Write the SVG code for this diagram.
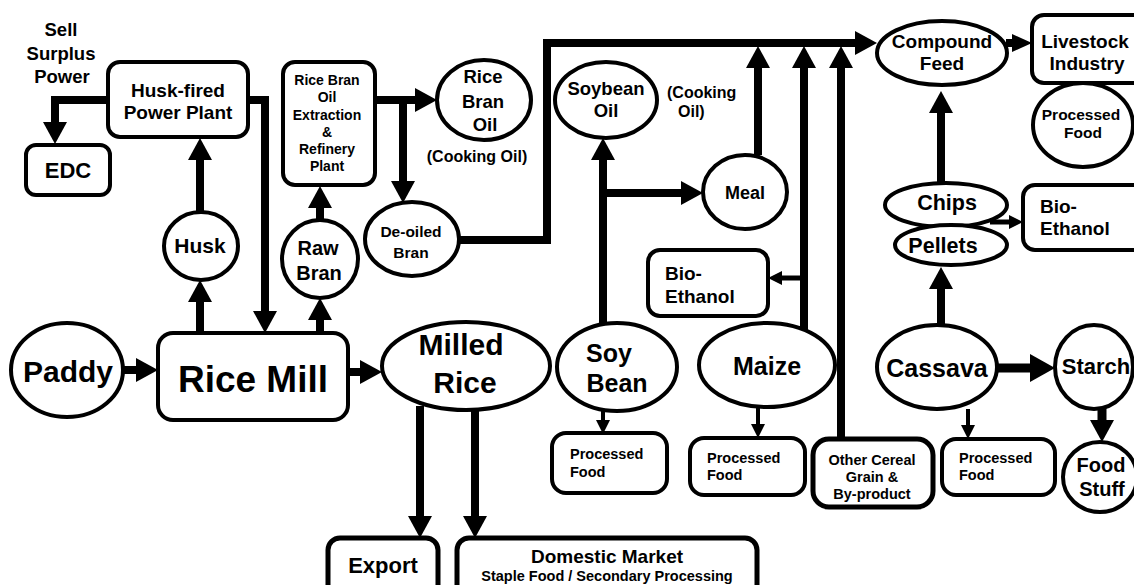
<svg xmlns="http://www.w3.org/2000/svg" width="1134" height="585" viewBox="0 0 1134 585">
  <style>
    .node { fill: #fff; stroke: #000; stroke-width: 4; }
    .t { font-family: "Liberation Sans", Arial, sans-serif; font-weight: bold; fill: #000; text-anchor: middle; }
    .s { text-anchor: start; }
    .c { fill: none; stroke: #000; stroke-linejoin: miter; stroke-linecap: butt; }
    .w8 { stroke-width: 8; }
    .w9 { stroke-width: 9; }
    .w5 { stroke-width: 5; }
    .w4 { stroke-width: 4; }
  </style>
  <defs>
    <marker id="big" markerUnits="userSpaceOnUse" markerWidth="22" markerHeight="24" viewBox="0 0 22 24" refX="0" refY="12" orient="auto">
      <path d="M0,0 L22,12 L0,24 Z" fill="#000"/>
    </marker>
    <marker id="wide" markerUnits="userSpaceOnUse" markerWidth="25" markerHeight="28" viewBox="0 0 25 28" refX="0" refY="14" orient="auto">
      <path d="M0,0 L25,14 L0,28 Z" fill="#000"/>
    </marker>
    <marker id="mid" markerUnits="userSpaceOnUse" markerWidth="20" markerHeight="18" viewBox="0 0 20 18" refX="0" refY="9" orient="auto">
      <path d="M0,0 L20,9 L0,18 Z" fill="#000"/>
    </marker>
    <marker id="small" markerUnits="userSpaceOnUse" markerWidth="14" markerHeight="14" viewBox="0 0 14 14" refX="0" refY="7" orient="auto">
      <path d="M0,0 L14,7 L0,14 Z" fill="#000"/>
    </marker>
  </defs>

  <rect width="1134" height="585" fill="#fff"/>

  <!-- connectors -->
  <g id="connectors">
    <path class="c w8" d="M123,370 H136" marker-end="url(#big)"/>
    <path class="c w8" d="M348,372 H360" marker-end="url(#big)"/>
    <path class="c w8" d="M200,333 V302" marker-end="url(#big)"/>
    <path class="c w8" d="M200,212 V160" marker-end="url(#big)"/>
    <path class="c w8" d="M248,100 H265 V311" marker-end="url(#big)"/>
    <path class="c w8" d="M108,100 H55 V122" marker-end="url(#big)"/>
    <path class="c w8" d="M320,333 V320" marker-end="url(#big)"/>
    <path class="c w8" d="M320,220 V208" marker-end="url(#big)"/>
    <path class="c w8" d="M375,100 H415" marker-end="url(#big)"/>
    <path class="c w8" d="M403,100 V181" marker-end="url(#big)"/>
    <path class="c w8" d="M458,240 H547 V43 H855" marker-end="url(#big)"/>
    <path class="c w8" d="M420,406 V516" marker-end="url(#big)"/>
    <path class="c w8" d="M475,409 V516" marker-end="url(#big)"/>
    <path class="c w8" d="M603,323 V160" marker-end="url(#big)"/>
    <path class="c w8" d="M603,193 H681" marker-end="url(#big)"/>
    <path class="c w8" d="M758,155 V68" marker-end="url(#big)"/>
    <path class="c w8" d="M804,334 V68" marker-end="url(#big)"/>
    <path class="c w8" d="M841,438 V68" marker-end="url(#big)"/>
    <path class="c w5" d="M804,278 H782" marker-end="url(#small)"/>
    <path class="c w4" d="M603,411 V420" marker-end="url(#small)"/>
    <path class="c w4" d="M758,407 V424" marker-end="url(#small)"/>
    <path class="c w4" d="M968,409 V425" marker-end="url(#small)"/>
    <path class="c w8" d="M1006,43 H1012" marker-end="url(#mid)"/>
    <path class="c w8" d="M941,183 V113" marker-end="url(#big)"/>
    <path class="c w8" d="M941,325 V289" marker-end="url(#big)"/>
    <path class="c w5" d="M990,222 H1009" marker-end="url(#small)"/>
    <path class="c w9" d="M997,368 H1030" marker-end="url(#wide)"/>
    <path class="c w9" d="M1102,408 V420" marker-end="url(#big)"/>
  </g>

  <!-- rice branch -->
  <g id="paddy">
    <ellipse class="node" cx="67" cy="370" rx="56" ry="47"/>
    <text class="t" x="68" y="382" font-size="30">Paddy</text>
  </g>
  <g id="rice-mill">
    <rect class="node" x="158" y="333" width="190" height="87" rx="15"/>
    <text class="t" x="253" y="392" font-size="37">Rice Mill</text>
  </g>
  <g id="husk">
    <ellipse class="node" cx="201" cy="246" rx="37" ry="34"/>
    <text class="t" x="200" y="253" font-size="21">Husk</text>
  </g>
  <g id="power-plant">
    <rect class="node" x="108" y="62" width="140" height="75" rx="12"/>
    <text class="t" x="178" y="97" font-size="19">Husk-fired</text>
    <text class="t" x="178" y="119" font-size="19">Power Plant</text>
  </g>
  <g id="sell-surplus">
    <text class="t" x="61" y="36" font-size="18.5">Sell</text>
    <text class="t" x="61" y="60" font-size="18.5">Surplus</text>
    <text class="t" x="62" y="83" font-size="18.5">Power</text>
  </g>
  <g id="edc">
    <rect class="node" x="26" y="145" width="84" height="50" rx="10"/>
    <text class="t" x="68" y="178" font-size="22">EDC</text>
  </g>
  <g id="raw-bran">
    <ellipse class="node" cx="320" cy="259" rx="38" ry="39"/>
    <text class="t" x="318" y="255" font-size="20">Raw</text>
    <text class="t" x="319" y="280" font-size="20">Bran</text>
  </g>
  <g id="bran-oil-plant">
    <rect class="node" x="283" y="62" width="92" height="123" rx="12"/>
    <text class="t" x="327" y="85" font-size="14">Rice Bran</text>
    <text class="t" x="327" y="102" font-size="14">Oil</text>
    <text class="t" x="327" y="120" font-size="14">Extraction</text>
    <text class="t" x="327" y="137" font-size="14">&amp;</text>
    <text class="t" x="327" y="154" font-size="14">Refinery</text>
    <text class="t" x="327" y="171" font-size="14">Plant</text>
  </g>
  <g id="rice-bran-oil">
    <ellipse class="node" cx="484" cy="100" rx="47" ry="40"/>
    <text class="t" x="483" y="83" font-size="18.5">Rice</text>
    <text class="t" x="483" y="108" font-size="18.5">Bran</text>
    <text class="t" x="485" y="131" font-size="18.5">Oil</text>
    <text class="t" x="477" y="162" font-size="16">(Cooking Oil)</text>
  </g>
  <g id="deoiled-bran">
    <ellipse class="node" cx="412" cy="239" rx="47" ry="37"/>
    <text class="t" x="411" y="237" font-size="15.5">De-oiled</text>
    <text class="t" x="411" y="258" font-size="15.5">Bran</text>
  </g>
  <g id="milled-rice">
    <ellipse class="node" cx="466" cy="366" rx="84" ry="44"/>
    <text class="t" x="461" y="355" font-size="30">Milled</text>
    <text class="t" x="465" y="393" font-size="30">Rice</text>
  </g>
  <g id="export">
    <rect class="node" x="328" y="538" width="110" height="70" rx="12" style="stroke-width:5"/>
    <text class="t" x="383" y="573" font-size="22">Export</text>
  </g>
  <g id="domestic-market">
    <rect class="node" x="457" y="538" width="300" height="70" rx="12" style="stroke-width:5"/>
    <text class="t" x="607" y="563" font-size="19">Domestic Market</text>
    <text class="t" x="607" y="581" font-size="14.5">Staple Food / Secondary Processing</text>
  </g>

  <!-- soybean branch -->
  <g id="soy-bean">
    <ellipse class="node" cx="617" cy="367" rx="60" ry="44"/>
    <text class="t" x="609" y="362" font-size="25">Soy</text>
    <text class="t" x="617" y="392" font-size="25">Bean</text>
  </g>
  <g id="soybean-oil">
    <ellipse class="node" cx="606" cy="100" rx="51" ry="38"/>
    <text class="t" x="606" y="95" font-size="18.5">Soybean</text>
    <text class="t" x="606" y="117" font-size="18.5">Oil</text>
    <text class="t s" x="667" y="98" font-size="16">(Cooking</text>
    <text class="t s" x="678" y="117" font-size="16">Oil)</text>
  </g>
  <g id="meal">
    <ellipse class="node" cx="745" cy="192" rx="42" ry="37"/>
    <text class="t" x="745" y="199" font-size="18">Meal</text>
  </g>
  <g id="soy-processed-food">
    <rect class="node" x="552" y="433" width="115" height="60" rx="14"/>
    <text class="t s" x="570" y="459" font-size="14.5">Processed</text>
    <text class="t s" x="570" y="477" font-size="14.5">Food</text>
  </g>

  <!-- maize branch -->
  <g id="maize">
    <ellipse class="node" cx="767" cy="365" rx="68" ry="42"/>
    <text class="t" x="767" y="375" font-size="25">Maize</text>
  </g>
  <g id="maize-bio-ethanol">
    <rect class="node" x="648" y="250" width="120" height="66" rx="12"/>
    <text class="t s" x="665" y="280" font-size="19">Bio-</text>
    <text class="t s" x="665" y="303" font-size="19">Ethanol</text>
  </g>
  <g id="maize-processed-food">
    <rect class="node" x="690" y="438" width="115" height="57" rx="14"/>
    <text class="t s" x="707" y="463" font-size="14.5">Processed</text>
    <text class="t s" x="707" y="480" font-size="14.5">Food</text>
  </g>
  <g id="other-cereal">
    <rect class="node" x="813" y="439" width="120" height="68" rx="16" style="stroke-width:5"/>
    <text class="t" x="872" y="465" font-size="14.5">Other Cereal</text>
    <text class="t" x="872" y="482" font-size="14.5">Grain &amp;</text>
    <text class="t" x="872" y="499" font-size="14.5">By-product</text>
  </g>

  <!-- feed and livestock -->
  <g id="compound-feed">
    <ellipse class="node" cx="942" cy="53" rx="65" ry="32"/>
    <text class="t" x="942" y="48" font-size="19">Compound</text>
    <text class="t" x="942" y="70" font-size="19">Feed</text>
  </g>
  <g id="livestock">
    <rect class="node" x="1032" y="15" width="115" height="68" rx="12"/>
    <text class="t" x="1085" y="48" font-size="19">Livestock</text>
    <text class="t" x="1087" y="70" font-size="19">Industry</text>
  </g>
  <g id="livestock-processed-food">
    <ellipse class="node" cx="1083" cy="125" rx="50" ry="42"/>
    <text class="t" x="1081" y="120" font-size="15.5">Processed</text>
    <text class="t" x="1083" y="138" font-size="15.5">Food</text>
  </g>

  <!-- cassava branch -->
  <g id="chips">
    <ellipse class="node" cx="946" cy="205" rx="61" ry="22"/>
    <text class="t" x="947" y="210" font-size="21.5">Chips</text>
  </g>
  <g id="pellets">
    <ellipse class="node" cx="951" cy="245" rx="56" ry="20"/>
    <text class="t" x="943" y="253" font-size="21.5">Pellets</text>
  </g>
  <g id="cassava-bio-ethanol">
    <rect class="node" x="1023" y="185" width="125" height="65" rx="12"/>
    <text class="t s" x="1040" y="213" font-size="19">Bio-</text>
    <text class="t s" x="1040" y="235" font-size="19">Ethanol</text>
  </g>
  <g id="cassava">
    <ellipse class="node" cx="937" cy="367" rx="60" ry="42"/>
    <text class="t" x="937" y="377" font-size="25">Cassava</text>
  </g>
  <g id="cassava-processed-food">
    <rect class="node" x="942" y="439" width="113" height="56" rx="14"/>
    <text class="t s" x="959" y="463" font-size="14.5">Processed</text>
    <text class="t s" x="959" y="480" font-size="14.5">Food</text>
  </g>
  <g id="starch">
    <ellipse class="node" cx="1094" cy="367" rx="39" ry="42"/>
    <text class="t" x="1096" y="374" font-size="22">Starch</text>
  </g>
  <g id="food-stuff">
    <ellipse class="node" cx="1100" cy="477" rx="37" ry="35"/>
    <text class="t" x="1101" y="472" font-size="20">Food</text>
    <text class="t" x="1102" y="496" font-size="20">Stuff</text>
  </g>
</svg>
